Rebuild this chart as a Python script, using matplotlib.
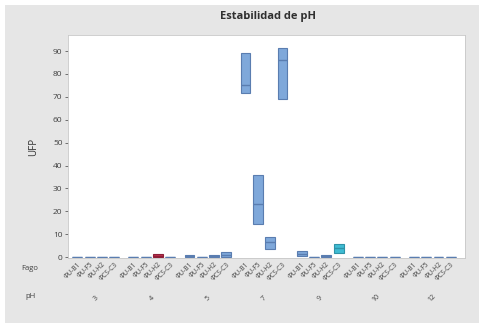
import numpy as np
import matplotlib
matplotlib.use("Agg")
import matplotlib.pyplot as plt
from matplotlib.patches import Rectangle

plt.rcParams['font.family'] = ['Open Sans', 'DejaVu Sans']

# Data (UFP): q1, median, q3 per box
ph_levels = ["3", "4", "5", "7", "9", "10", "12"]
fagos = ["ΦU-B1", "ΦU-F5", "ΦU-H2", "ΦCS-C3"]

q1 = [0, 0, 0, 0,
      0, 0, 0, 0,
      0.1, 0, 0.2, 0.2,
      71.7, 14.4, 3.5, 69.0,
      0.3, 0, 0.1, 1.6,
      0, 0, 0, 0,
      0, 0, 0, 0]
med = [0, 0, 0, 0,
       0, 0, 0.6, 0,
       0.5, 0, 0.6, 1.0,
       75.0, 23.1, 6.5, 85.9,
       1.5, 0, 0.4, 4.0,
       0, 0, 0, 0,
       0, 0, 0, 0]
q3 = [0, 0, 0, 0,
      0, 0, 1.2, 0,
      0.9, 0, 1.0, 2.1,
      89.3, 35.9, 8.8, 91.3,
      2.8, 0, 0.7, 5.8,
      0, 0, 0, 0,
      0, 0, 0, 0]

# positions: 4 boxes per pH group, gap between groups
group_step = 4.55
positions = []
for g in range(len(ph_levels)):
    for i in range(len(fagos)):
        positions.append(g * group_step + i)

blue = "#7FA8DA"
fills = [blue] * len(q1)
fills[6] = "#C2304F"
fills[19] = "#3FBCD3"
edges = ["#5A7DB0"] * len(q1)
edges[6] = "#8E2038"
edges[19] = "#2E93A8"

stats = []
for a, m, b in zip(q1, med, q3):
    stats.append(dict(q1=a, med=m, q3=b, whislo=a, whishi=b, fliers=[]))

fig = plt.figure(figsize=(4.79, 3.23), dpi=100, facecolor="white")
fig.patches.append(Rectangle((5 / 479, 0), 1, 1 - 5 / 323, transform=fig.transFigure,
                             facecolor="#E6E6E6", edgecolor="none", zorder=-10))
ax = fig.add_axes([68 / 479, 1 - 258 / 323, (465 - 68) / 479, (258 - 35) / 323])

bp = ax.bxp(stats, positions=positions, widths=0.8, patch_artist=True,
            showfliers=False, showcaps=False)
for patch, fc, ec in zip(bp['boxes'], fills, edges):
    patch.set_facecolor(fc)
    patch.set_edgecolor(ec)
    patch.set_linewidth(0.8)
for line, ec in zip(bp['medians'], edges):
    line.set_color(ec)
    line.set_linewidth(1.0)
for w in bp['whiskers']:
    w.set_visible(False)

ax.set_xlim(-0.75, positions[-1] + 1.15)
ax.set_ylim(-0.4, 97)
ax.set_yticks(np.arange(0, 100, 10))
ax.tick_params(axis='y', labelsize=6, colors="#404040", length=2, width=0.5, pad=2)
ax.set_xticks(positions)
ax.set_xticklabels(fagos * len(ph_levels), rotation=45, ha='right', rotation_mode='anchor',
                   fontsize=4.8, color="#404040")
ax.tick_params(axis='x', length=0, pad=2)
for s in ax.spines.values():
    s.set_color("#C8C8C8")
    s.set_linewidth(0.6)
ax.set_ylabel("UFP", fontsize=7, color="#303030", labelpad=10)

# pH group labels
for g, lab in enumerate(ph_levels):
    cx = g * group_step + 1.5
    ax.text(cx, -0.18, lab, transform=ax.get_xaxis_transform(), ha='center', va='center',
            fontsize=5, color="#404040", rotation=45)
fig.text(30 / 479, 1 - 268 / 323, "Fago", fontsize=5.5, color="#404040", ha='center', va='center')
fig.text(30 / 479, 1 - 297 / 323, "pH", fontsize=5.5, color="#404040", ha='center', va='center')

fig.text(268 / 479, 1 - 17 / 323, "Estabilidad de pH", fontsize=8, fontweight='bold',
         color="#303030", ha='center', va='center')

fig.savefig("out.png", dpi=100, facecolor=fig.get_facecolor())
